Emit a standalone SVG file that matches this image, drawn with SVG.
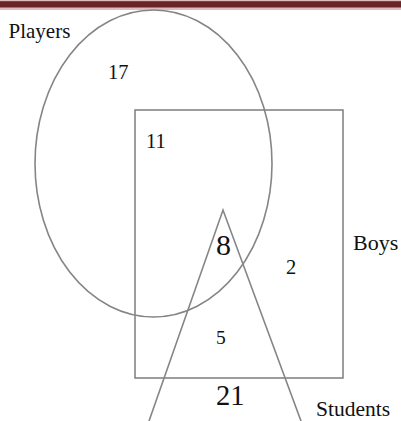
<svg xmlns="http://www.w3.org/2000/svg" width="401" height="421" viewBox="0 0 401 421">
<style>
.shape{fill:none;stroke:#858585;stroke-width:1.6}
.t{font-family:"Liberation Serif","Times New Roman",serif;fill:#111}
</style>
<rect x="0" y="0" width="401" height="421" fill="#fff"/>
<g id="topbar">
<rect x="0" y="0" width="401" height="10" fill="#dcbcbc"/>
<rect x="0" y="1.2" width="401" height="6.3" fill="#6a2326"/>
</g>
<g id="players">
<ellipse class="shape" cx="153.5" cy="163.5" rx="118.5" ry="153.5"/>
<text class="t" x="8.5" y="38" font-size="21">Players</text>
</g>
<g id="boys">
<rect class="shape" x="135" y="110" width="208" height="268"/>
<text class="t" x="353" y="250" font-size="22">Boys</text>
</g>
<g id="students">
<polyline class="shape" points="149,421 223,210 301,421"/>
<text class="t" x="316" y="416" font-size="21.5">Students</text>
</g>
<g id="numbers">
<text class="t" x="108" y="79" font-size="20.5">17</text>
<text class="t" x="146" y="148" font-size="20.5">11</text>
<text class="t" x="216" y="255" font-size="30">8</text>
<text class="t" x="286" y="274" font-size="20.5">2</text>
<text class="t" x="216" y="344" font-size="19.5">5</text>
<text class="t" x="216" y="405" font-size="28.5">21</text>
</g>
</svg>
